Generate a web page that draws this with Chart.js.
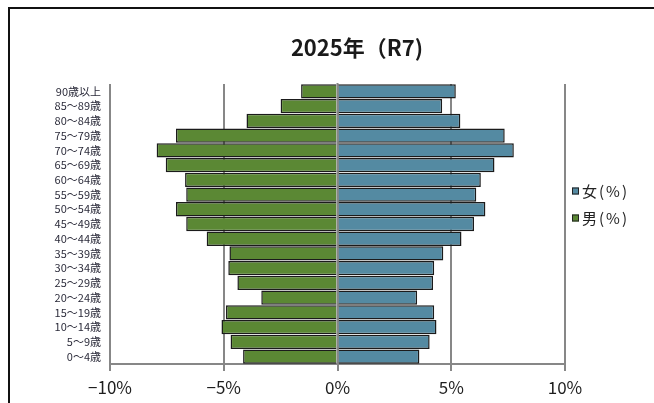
<!DOCTYPE html>
<html>
<head>
<meta charset="utf-8">
<script src="https://cdn.jsdelivr.net/npm/chart.js@4.4.1/dist/chart.umd.min.js"></script>
<style>
  html, body { margin:0; padding:0; background:#fff; overflow:hidden; }
  #wrap { position:relative; width:654px; height:403px; }
  #frame { position:absolute; left:8px; top:7px; width:720px; height:480px; border:2px solid #111; box-sizing:border-box; }
  #c { position:absolute; left:0; top:0; }
</style>
</head>
<body>
<div id="wrap">
  <div id="frame"></div>
  <canvas id="c" width="654" height="403"></canvas>
</div>
<script>
const titleText = '2025年（R7)';
const categories = ['90歳以上','85～89歳','80～84歳','75～79歳','70～74歳','65～69歳','60～64歳','55～59歳','50～54歳','45～49歳','40～44歳','35～39歳','30～34歳','25～29歳','20～24歳','15～19歳','10～14歳','5～9歳','0～4歳'];
const femaleLabel = '女(%)';
const maleLabel = '男(%)';
const femaleValues = [5.2, 4.6, 5.4, 7.35, 7.75, 6.9, 6.3, 6.1, 6.5, 6.0, 5.45, 4.65, 4.25, 4.2, 3.5, 4.25, 4.35, 4.05, 3.6];
const maleValues = [-1.6, -2.5, -4.0, -7.1, -7.95, -7.55, -6.7, -6.65, -7.1, -6.65, -5.75, -4.75, -4.8, -4.4, -3.35, -4.9, -5.1, -4.7, -4.15];
const xTicks = [-10, -5, 0, 5, 10];
const xTickLabels = ['−10%', '−5%', '0%', '5%', '10%'];

const femaleColor = '#548aa2';
const maleColor = '#5b8834';
const gridColor = '#878787';

const titlePlugin = {
  id: 'customTitle',
  afterDraw(chart) {
    const ctx = chart.ctx;
    ctx.save();
    ctx.font = 'bold 22px "Liberation Sans Narrow", "Noto Sans CJK JP", sans-serif';
    ctx.fillStyle = '#1a1a1a';
    ctx.textAlign = 'center';
    ctx.textBaseline = 'middle';
    ctx.fillText(titleText, 357, 48);
    ctx.restore();
  }
};

const zeroLinePlugin = {
  id: 'zeroLine',
  afterDatasetsDraw(chart) {
    const ctx = chart.ctx;
    const x = chart.scales.x.getPixelForValue(0);
    const a = chart.chartArea;
    ctx.save();
    ctx.strokeStyle = gridColor;
    ctx.lineWidth = 2;
    ctx.beginPath();
    ctx.moveTo(x, a.top - 1);
    ctx.lineTo(x, a.bottom);
    ctx.stroke();
    ctx.restore();
  }
};

const legendPlugin = {
  id: 'customLegend',
  afterDraw(chart) {
    const ctx = chart.ctx;
    const items = [chart.data.datasets[0], chart.data.datasets[1]];
    ctx.save();
    ctx.font = '15px "Noto Sans CJK JP", sans-serif';
    ctx.textBaseline = 'middle';
    ctx.textAlign = 'left';
    items.forEach((ds, i) => {
      const y = 191 + i * 27;
      ctx.fillStyle = ds.backgroundColor;
      ctx.fillRect(572, y - 3.5, 7, 7);
      ctx.strokeStyle = '#222';
      ctx.lineWidth = 1;
      ctx.strokeRect(572.5, y - 3, 6, 6);
      ctx.fillStyle = '#222';
      try { ctx.letterSpacing = '2px'; } catch (e) {}
      ctx.fillText(ds.label, 582, y);
    });
    ctx.restore();
  }
};

new Chart(document.getElementById('c'), {
  type: 'bar',
  data: {
    labels: categories,
    datasets: [
      { label: femaleLabel, data: femaleValues, backgroundColor: femaleColor, borderColor: '#1b1b1b', borderWidth: 1.5, barPercentage: 1, categoryPercentage: 0.97 },
      { label: maleLabel, data: maleValues, backgroundColor: maleColor, borderColor: '#1b1b1b', borderWidth: 1.5, barPercentage: 1, categoryPercentage: 0.97 }
    ]
  },
  options: {
    indexAxis: 'y',
    responsive: false,
    animation: false,
    devicePixelRatio: 1,
    layout: { padding: { top: 84, right: 89, left: 0, bottom: 0 } },
    plugins: { legend: { display: false }, title: { display: false }, tooltip: { enabled: false } },
    scales: {
      x: {
        stacked: true,
        min: -10, max: 10,
        afterFit(scale) { scale.height = 39; },
        afterBuildTicks(scale) { scale.ticks = xTicks.map(v => ({ value: v })); },
        grid: { color: gridColor, lineWidth: 2, drawTicks: true, tickLength: 7, tickColor: gridColor, tickWidth: 2 },
        border: { display: true, color: gridColor, width: 2 },
        ticks: {
          padding: 6,
          color: '#1e1e1e',
          font: { family: '"Liberation Sans Narrow", "Noto Sans CJK JP", sans-serif', size: 17 },
          callback(value) { const i = xTicks.indexOf(value); return i >= 0 ? xTickLabels[i] : ''; }
        }
      },
      y: {
        stacked: true,
        afterFit(scale) { scale.width = 110; },
        grid: { display: false, drawTicks: false },
        border: { display: false },
        ticks: {
          padding: 9,
          color: '#2b2b3a',
          autoSkip: false,
          font: { family: '"Noto Sans CJK JP", sans-serif', size: 11 }
        }
      }
    }
  },
  plugins: [titlePlugin, zeroLinePlugin, legendPlugin]
});
</script>
</body>
</html>
